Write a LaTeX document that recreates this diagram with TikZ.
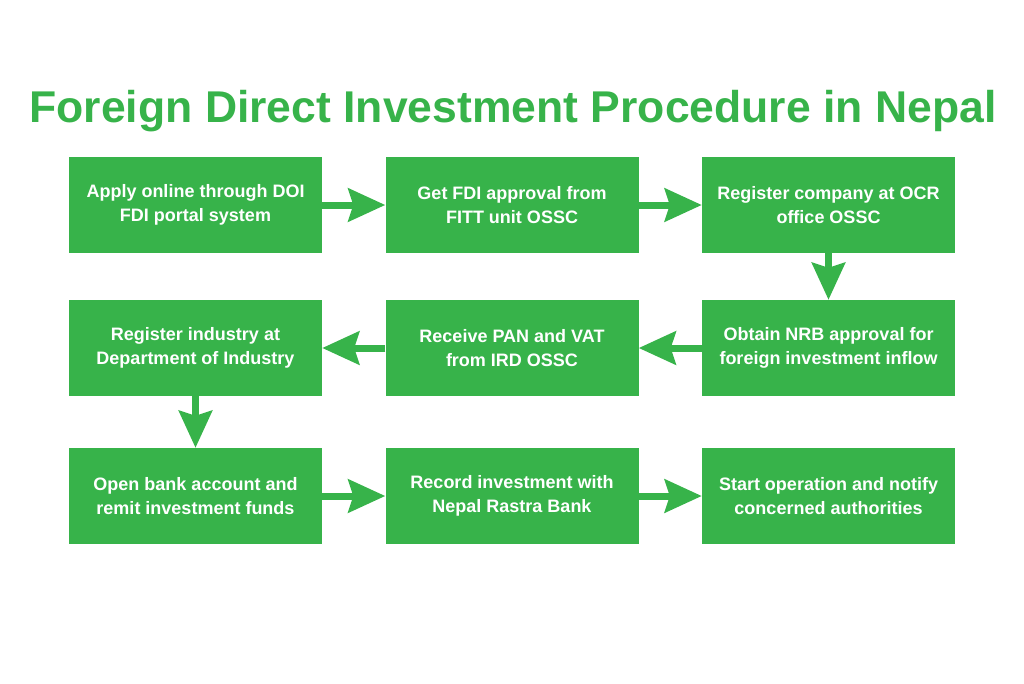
\documentclass[tikz,border=0pt]{standalone}
\usepackage{fontspec}
\setmainfont{Liberation Sans}
\usetikzlibrary{arrows.meta}
\definecolor{fdigreen}{HTML}{37B34A}
\begin{document}
\begin{tikzpicture}[x=1pt,y=-1pt,
  stepbox/.style={fill=fdigreen, minimum width=253pt, minimum height=96pt, inner sep=0pt,
    text=white, font=\bfseries\fontsize{18}{24}\selectfont, align=center},
  flow/.style={draw=fdigreen, line width=7pt,
    -{Stealth[length=37pt,width=33pt,inset=5pt]}}]
\useasboundingbox (0,0) rectangle (1024,683);
\node[font=\bfseries\fontsize{44.5}{50}\selectfont, text=fdigreen, anchor=base, inner sep=0pt] (title) at (513,122) {Foreign Direct Investment Procedure in Nepal};
% row 1
\node[stepbox] (b1) at (195.5,205) {Apply online through DOI\\FDI portal system};
\node[stepbox] (b2) at (512,205) {Get FDI approval from\\FITT unit OSSC};
\node[stepbox] (b3) at (828.5,205) {Register company at OCR\\office OSSC};
% row 2
\node[stepbox] (b4) at (828.5,348) {Obtain NRB approval for\\foreign investment inflow};
\node[stepbox] (b5) at (512,348) {Receive PAN and VAT\\from IRD OSSC};
\node[stepbox] (b6) at (195.5,348) {Register industry at\\Department of Industry};
% row 3
\node[stepbox] (b7) at (195.5,496) {Open bank account and\\remit investment funds};
\node[stepbox] (b8) at (512,496) {Record investment with\\Nepal Rastra Bank};
\node[stepbox] (b9) at (828.5,496) {Start operation and notify\\concerned authorities};
% connectors
\draw[flow] (b1.east) -- (b2.west);
\draw[flow] (b2.east) -- (b3.west);
\draw[flow] (b3.south) -- (b4.north);
\draw[flow] (b4.west) -- (b5.east);
\draw[flow] (b5.west) -- (b6.east);
\draw[flow] (b6.south) -- (b7.north);
\draw[flow] (b7.east) -- (b8.west);
\draw[flow] (b8.east) -- (b9.west);
\end{tikzpicture}
\end{document}
